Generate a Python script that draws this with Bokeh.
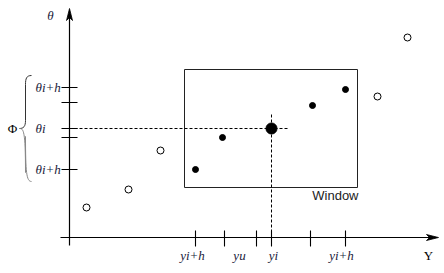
from bokeh.plotting import figure
from bokeh.models import Range1d
from bokeh.core.properties import value
from bokeh.embed import file_html
from bokeh.resources import INLINE

# ---- data (diagram coordinates, y grows downward) ----
open_x = [86, 128, 160, 377, 407]
open_y = [207, 189, 150, 96, 37]
filled_x = [195, 222, 312, 345]
filled_y = [169, 137, 105, 89]
center_x = [271]
center_y = [128]

window_left, window_right, window_top, window_bottom = 184, 357, 69, 187

axis_x0 = 69          # vertical axis position
axis_y0 = 237         # horizontal axis position

x_ticks = [195, 224, 256, 271, 310, 345]
x_label_pos = [192, 239, 273, 341]
x_labels = ["yi+h", "yu", "yi", "yi+h"]

y_ticks = [87, 102, 128, 137, 169]
y_label_pos = [87, 128, 169]
y_labels = ["θi+h", "θi", "θi+h"]

W, H = 444, 273
p = figure(width=W, height=H, output_backend="svg", toolbar_location=None,
           x_range=Range1d(0, W), y_range=Range1d(H, 0),
           min_border=0, outline_line_color=None)
p.axis.visible = False
p.grid.visible = False
p.background_fill_color = "white"

serif = value("Liberation Serif")

# axes
p.segment(x0=[axis_x0, 60], y0=[245, axis_y0], x1=[axis_x0, 432], y1=[14, axis_y0],
          line_color="black", line_width=1.2)
# arrow heads
p.patch(x=[axis_x0, axis_x0 - 3, axis_x0, axis_x0 + 3],
        y=[8, 20, 17, 20], fill_color="black", line_color="black", line_width=0.8)
p.patch(x=[438, 426, 429, 426], y=[axis_y0, axis_y0 - 3, axis_y0, axis_y0 + 3],
        fill_color="black", line_color="black", line_width=0.8)

# ticks
p.segment(x0=x_ticks, y0=[230] * len(x_ticks), x1=x_ticks, y1=[246] * len(x_ticks),
          line_color="black", line_width=1.1)
p.segment(x0=[61] * len(y_ticks), y0=y_ticks, x1=[77] * len(y_ticks), y1=y_ticks,
          line_color="black", line_width=1.1)

# window rectangle
p.quad(left=[window_left], right=[window_right], top=[window_top], bottom=[window_bottom],
       fill_color=None, line_color="#222222", line_width=1)
p.text(x=[window_right + 1], y=[window_bottom + 8], text=["Window"],
       text_font=value("Liberation Sans"), text_font_size="13px",
       text_align="right", text_baseline="middle", text_color="#222222")

# dashed guide lines
p.segment(x0=[axis_x0], y0=center_y, x1=[288], y1=center_y,
          line_color="black", line_dash="3 2", line_width=1)
p.segment(x0=center_x, y0=[114], x1=center_x, y1=[axis_y0],
          line_color="black", line_dash="3 2", line_width=1)

# points
p.scatter(open_x, open_y, size=7, marker="circle", fill_color="white",
          line_color="black", line_width=1)
p.scatter(filled_x, filled_y, size=6, marker="circle", fill_color="black", line_color="black")
p.scatter(center_x, center_y, size=11, marker="circle", fill_color="black", line_color="black")

# labels
p.text(x=x_label_pos, y=[255] * len(x_labels), text=x_labels, text_font=serif,
       text_font_size="13px", text_font_style="italic",
       text_align="center", text_baseline="middle", text_color="#1a1a3a")
p.text(x=[428], y=[255], text=["Y"], text_font=serif, text_font_size="13px",
       text_align="center", text_baseline="middle", text_color="black")
p.text(x=[35] * len(y_labels), y=y_label_pos, text=y_labels, text_font=serif,
       text_font_size="13px", text_font_style="italic",
       text_align="left", text_baseline="middle", text_color="#1a1a3a")
p.text(x=[50], y=[15], text=["θ"], text_font=serif, text_font_size="13px",
       text_font_style="italic", text_align="center", text_baseline="middle", text_color="#1a1a3a")
p.text(x=[12], y=[128], text=["Φ"], text_font=serif, text_font_size="13px",
       text_align="center", text_baseline="middle", text_color="black")

# brace
p.bezier(x0=[31, 25, 25, 19], y0=[75, 120, 136, 128],
         x1=[25, 19, 31, 25], y1=[84, 128, 181, 172],
         cx0=[26, 25, 25, 23], cy0=[75, 126, 172, 128],
         cx1=[25, 23, 26, 25], cy1=[78, 128, 181, 130],
         line_color=["#333333", "#333333", "#888888", "#888888"], line_width=1)
p.segment(x0=[25, 25], y0=[84, 136], x1=[25, 25], y1=[120, 172],
          line_color=["#333333", "#888888"], line_width=1)

open("out.html", "w").write(file_html(p, INLINE))
